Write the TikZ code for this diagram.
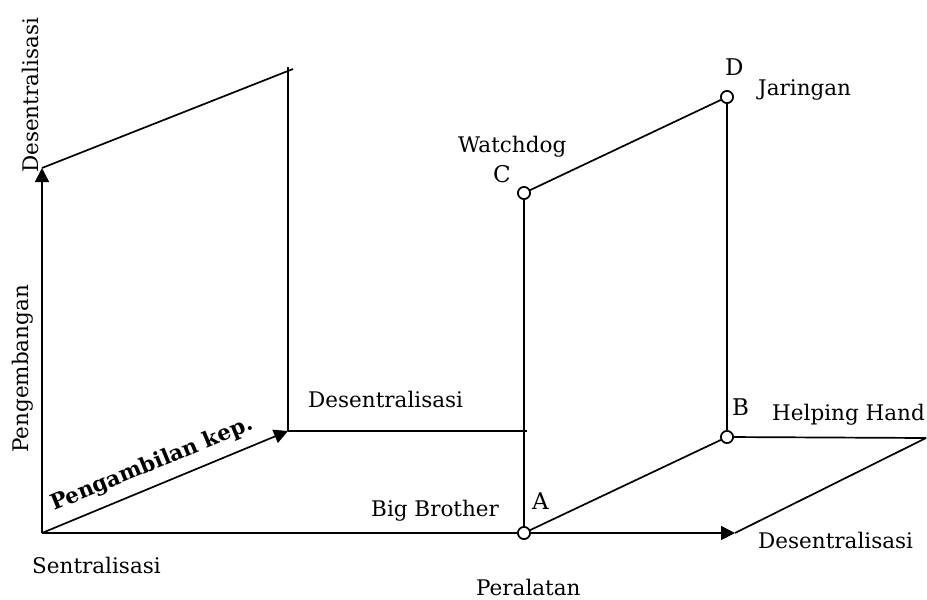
\documentclass[tikz,border=0pt]{standalone}
\usepackage{fontspec}
\setmainfont{DejaVu Serif}
\usetikzlibrary{arrows.meta}
\tikzset{
  ln/.style={line width=1.7pt, black},
  arr/.style={ln, -{Triangle[length=14pt,width=14pt]}},
  pt/.style={circle, draw, line width=1.6pt, fill=white, minimum size=12pt, inner sep=0pt},
  lbl/.style={inner sep=0pt, font=\fontsize{21.5}{26}\selectfont},
  let/.style={inner sep=0pt, font=\fontsize{23}{27}\selectfont},
  bl/.style={inner sep=0pt, font=\fontsize{21.5}{26}\selectfont\bfseries}
}
\begin{document}
\begin{tikzpicture}[x=1pt,y=-1pt]
\useasboundingbox (0,0) rectangle (927,600);
% corner coordinates
\coordinate (O) at (42,533);
\coordinate (Ytop) at (42,168);
\coordinate (TL) at (293,69);
\coordinate (TLv) at (288,67);
\coordinate (P) at (288,431);
\coordinate (Pr) at (527,431);
\coordinate (Xend) at (735,533);
\coordinate (R) at (926,438);
% points
\node[pt] (A) at (524,533) {};
\node[pt] (B) at (727,437) {};
\node[pt] (C) at (524,193) {};
\node[pt] (D) at (727,97) {};
% left frame
\draw[arr] (O) -- (Ytop);
\draw[ln] (Ytop) -- (TL);
\draw[ln] (TLv) -- (P);
\draw[ln] (P) -- (Pr);
\draw[arr] (O) -- (P);
% bottom axis
\draw[ln] (O) -- (A);
\draw[arr] (A) -- (Xend);
\draw[ln] (Xend) -- (R);
\draw[ln] (B) -- (R);
% right box
\draw[ln] (A) -- (C);
\draw[ln] (B) -- (D);
\draw[ln] (A) -- (B);
\draw[ln] (C) -- (D);
% redraw circles on top
\node[pt] at (A) {};
\node[pt] at (B) {};
\node[pt] at (C) {};
\node[pt] at (D) {};
% labels
\node[lbl, anchor=base west, rotate=90] (l1) at (38,173) {Desentralisasi};
\node[lbl, anchor=base west, rotate=90] (l2) at (28,453) {Pengembangan};
\node[bl, anchor=base west, rotate=22.3] (l3) at (54,511) {Pengambilan kep.};
\node[lbl, anchor=base west] (l4) at (32,573) {Sentralisasi};
\node[lbl, anchor=base west] (l5) at (476,595) {Peralatan};
\node[lbl, anchor=base west] (l6) at (758,548) {Desentralisasi};
\node[lbl, anchor=base west] (l7) at (772,420) {Helping Hand};
\node[let, anchor=base west] (l8) at (732,415) {B};
\node[let, anchor=base west] (l9) at (532,509) {A};
\node[lbl, anchor=base west] (l10) at (371,516) {Big Brother};
\node[let, anchor=base west] (l11) at (493,182) {C};
\node[lbl, anchor=base west] (l12) at (458,152) {Watchdog};
\node[let, anchor=base west] (l13) at (725,75) {D};
\node[lbl, anchor=base west] (l14) at (758,95) {Jaringan};
\node[lbl, anchor=base west] (l15) at (308,407) {Desentralisasi};
\end{tikzpicture}
\end{document}
